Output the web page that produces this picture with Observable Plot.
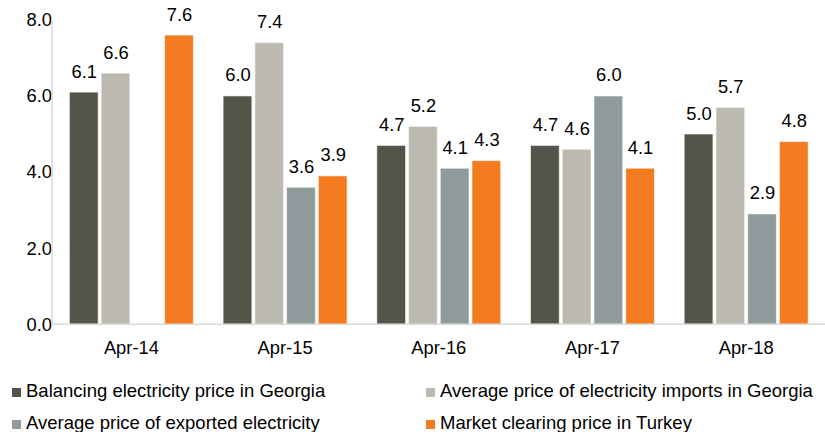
<!DOCTYPE html>
<html>
<head>
<meta charset="utf-8">
<script src="https://cdn.jsdelivr.net/npm/d3@7"></script>
<script src="https://cdn.jsdelivr.net/npm/@observablehq/plot@0.6"></script>
<style>
  html, body { margin: 0; padding: 0; overflow: hidden; background: #fff; }
  body { font-family: "Liberation Sans", Arial, sans-serif; width: 825px; }
  #chart svg { display: block; }
  #legend { position: relative; height: 73px; font-size: 18.5px; color: #000; }
  .item { position: absolute; display: flex; align-items: center; white-space: nowrap; }
  .sw { width: 9px; height: 9px; margin-right: 5px; margin-top: 3px; }
</style>
</head>
<body>
<div id="chart"></div>
<div id="legend"></div>
<script>
const categories = ["Apr-14", "Apr-15", "Apr-16", "Apr-17", "Apr-18"];
const seriesNames = [
  "Balancing electricity price in Georgia",
  "Average price of electricity imports in Georgia",
  "Average price of exported electricity",
  "Market clearing price in Turkey"
];
const balancing = [6.1, 6.0, 4.7, 4.7, 5.0];
const imports = [6.6, 7.4, 5.2, 4.6, 5.7];
const exported = [null, 3.6, 4.1, 6.0, 2.9];
const turkey = [7.6, 3.9, 4.3, 4.1, 4.8];
const colors = ["#54544a", "#bcb9b0", "#8f9b9b", "#f47b20"];
const yTicks = [0, 2, 4, 6, 8];

const seriesValues = [balancing, imports, exported, turkey];
const data = [];
categories.forEach((c, i) => {
  seriesNames.forEach((s, j) => {
    const v = seriesValues[j][i];
    if (v != null) data.push({cat: c, series: s, value: v});
  });
});

const W = 832, H = 362, ML = 52, MR = 0, MT = 20, MB = 35;

const chart = Plot.plot({
  width: W,
  height: H,
  marginLeft: ML,
  marginRight: MR,
  marginTop: MT,
  marginBottom: MB,
  style: {fontFamily: "Liberation Sans, Arial, sans-serif", fontSize: "18.5px", color: "#000", background: "#fff"},
  fx: {domain: categories, paddingInner: 0.19, paddingOuter: 0.096, label: null},
  x: {domain: seriesNames, paddingInner: 0.1, paddingOuter: 0, axis: null},
  y: {domain: [0, 8], ticks: yTicks, label: null},
  color: {domain: seriesNames, range: colors},
  marks: [
    Plot.axisY({ticks: yTicks, tickSize: 0, tickPadding: 17, tickFormat: d3.format(".1f"), label: null, fontSize: 18.5, fill: "#000"}),
    Plot.axisFx({anchor: "bottom", tickSize: 0, tickPadding: 16, label: null, fontSize: 18.5, fill: "#000"}),
    Plot.barY(data, {fx: "cat", x: "series", y: "value", fill: "series", stroke: "#ffffff", strokeOpacity: 0.6, strokeWidth: 1}),
    Plot.text(data, {fx: "cat", x: "series", y: "value", text: d => d3.format(".1f")(d.value), dy: -21, fontSize: 18.5, fill: "#000"})
  ]
});

// axis lines (left and baseline) from the chart's own y scale and margins
(function addAxisLines() {
  const ns = "http://www.w3.org/2000/svg";
  const svg = chart.tagName.toLowerCase() === "svg" ? chart : chart.querySelector("svg");
  const y = chart.scale("y");
  const yBase = y.apply(0);
  const yTop = y.apply(yTicks[yTicks.length - 1]);
  const g = document.createElementNS(ns, "g");
  g.setAttribute("stroke", "#d9d9d9");
  g.setAttribute("stroke-width", 1.5);
  const left = document.createElementNS(ns, "line");
  left.setAttribute("x1", ML + 0.5); left.setAttribute("x2", ML + 0.5);
  left.setAttribute("y1", yTop); left.setAttribute("y2", yBase);
  const base = document.createElementNS(ns, "line");
  base.setAttribute("x1", ML); base.setAttribute("x2", W - MR);
  base.setAttribute("y1", yBase); base.setAttribute("y2", yBase);
  g.appendChild(left); g.appendChild(base);
  svg.appendChild(g);
})();

document.getElementById("chart").appendChild(chart);

const legend = document.getElementById("legend");
const pos = [[12, 32], [426, 32], [12, 64], [426, 64]];
seriesNames.forEach((name, j) => {
  const it = document.createElement("div");
  it.className = "item";
  it.style.left = pos[j][0] + "px";
  it.style.top = pos[j][1] + "px";
  it.style.transform = "translateY(-50%)";
  const sw = document.createElement("span");
  sw.className = "sw";
  sw.style.background = colors[j];
  const tx = document.createElement("span");
  tx.textContent = name;
  it.appendChild(sw);
  it.appendChild(tx);
  legend.appendChild(it);
});
</script>
</body>
</html>
